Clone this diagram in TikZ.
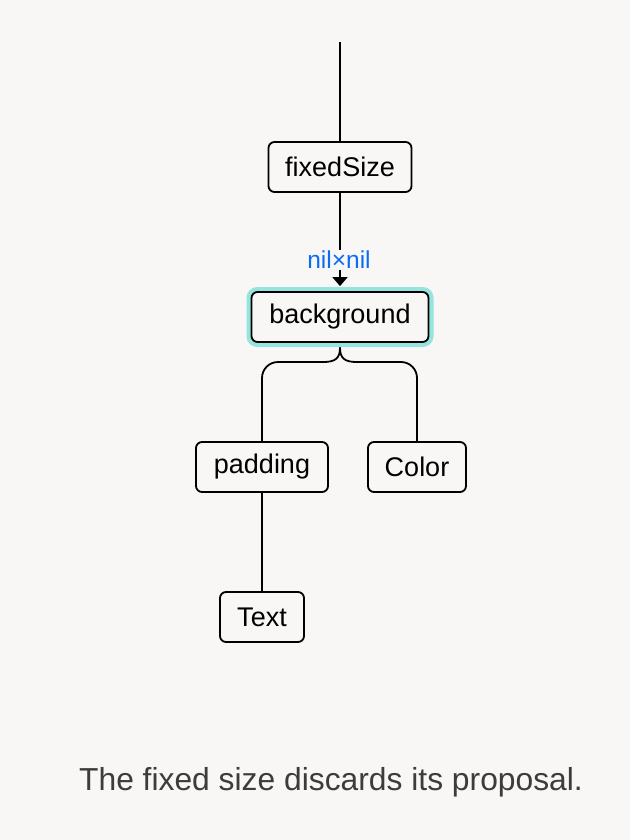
\documentclass[tikz,border=0pt]{standalone}
\usepackage{fontspec}
\setmainfont{Liberation Sans}
\usetikzlibrary{arrows.meta}
\definecolor{pagebg}{HTML}{F8F7F5}
\definecolor{halo}{HTML}{96E4DE}
\definecolor{labelblue}{HTML}{0A6CF5}
\definecolor{captiongray}{HTML}{3C3C3C}
\tikzset{
  viewbox/.style={draw=black, line width=1.8pt, rounded corners=6pt, fill=pagebg,
    minimum height=50pt, inner sep=0pt, font=\fontsize{27}{32}\selectfont},
  haloed/.style={preaction={draw=halo, line width=10pt}},
  link/.style={draw=black, line width=1.8pt},
  sizelabel/.style={text=labelblue, fill=pagebg, inner sep=1pt, font=\fontsize{24.5}{28}\selectfont}
}
\begin{document}
\begin{tikzpicture}[x=1pt, y=-1pt]
\useasboundingbox[fill=pagebg] (0,0) rectangle (630,840);
\coordinate (top) at (340,42);
\node[viewbox, minimum width=143pt] (fixed) at (340,167) {fixedSize};
\node[viewbox, haloed, minimum width=177pt] (bg) at (340,317) {background};
\node[viewbox, minimum width=132pt] (padding) at (262,467) {padding};
\node[viewbox, minimum width=98pt] (color) at (417,467) {Color};
\node[viewbox, minimum width=84pt] (text) at (262,617) {Text};
\coordinate (brace) at (340,362);

\draw[link] (top) -- (fixed.north);
\draw[link, -{Triangle[length=9pt,width=15pt]}] (fixed.south) -- ([yshift=5pt]bg.north);
\node[sizelabel] (lbl) at (339,260) {nil×nil};

\draw[link, line cap=round] ([yshift=-5pt]bg.south) .. controls (340,358) and (335.5,362) .. (323.5,362)
  [rounded corners=16pt] -- (padding.north |- brace) -- (padding.north);
\draw[link, line cap=round] ([yshift=-5pt]bg.south) .. controls (340,358) and (344.5,362) .. (356.5,362)
  [rounded corners=16pt] -- (color.north |- brace) -- (color.north);
\draw[link] (padding.south) -- (text.north);

\node[text=captiongray, anchor=base, font=\fontsize{31.8}{38}\selectfont] (caption) at (331,790) {The fixed size discards its proposal.};
\end{tikzpicture}
\end{document}
